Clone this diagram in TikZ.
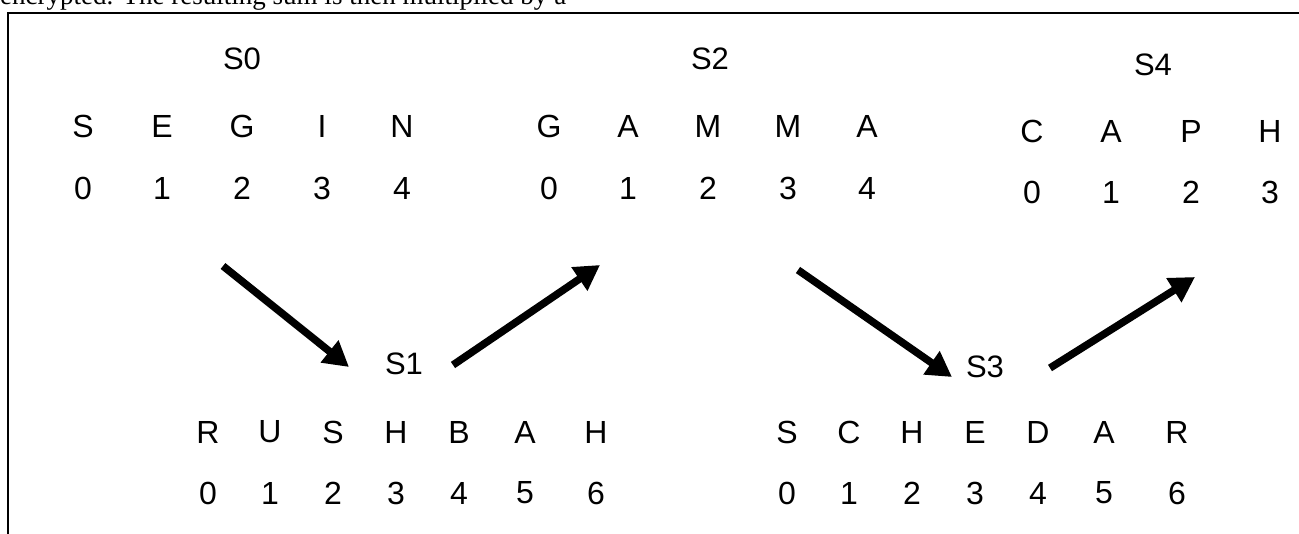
\documentclass[tikz,border=0pt]{standalone}
\usepackage{fontspec}
\setmainfont{Liberation Sans}
\newfontfamily\bodyserif{Liberation Serif}
\usetikzlibrary{arrows.meta}

\begin{document}
\begin{tikzpicture}[x=1pt,y=-1pt,
  glyph/.style={inner sep=0pt, font=\fontsize{32}{32}\selectfont},
  statelabel/.style={inner sep=0pt, font=\fontsize{31}{31}\selectfont},
  fatarrow/.style={line width=7.5pt, -{Triangle[length=25pt,width=27pt]}},
  frameline/.style={line width=2pt},
  bodyline/.style={anchor=base west, inner sep=0pt, font=\bodyserif\fontsize{27}{27}\selectfont}]
\clip (0,0) rectangle (1299,534);
\useasboundingbox (0,0) rectangle (1299,534);

% last line of the running text above the figure
\node[bodyline] (bodytext) at (0,5)
  {\makebox[566pt][s]{encrypted. The resulting sum is then multiplied by a}};

% figure frame (open to the right and bottom)
\coordinate (frTR) at (1310,13);
\coordinate (frTL) at (8,13);
\coordinate (frBL) at (8,545);
\draw[frameline] (frTR) -- (frTL) -- (frBL);

% S0 : SEGIN
\node[statelabel] (lab0) at (242,59) {S0};
\foreach \c/\x [count=\i from 0] in {S/83,E/162,G/242,I/322,N/402} {
  \node[glyph] (s0l\i) at (\x,126) {\c};
  \node[glyph] (s0d\i) at (\x,188) {\i};
}

% S2 : GAMMA
\node[statelabel] (lab2) at (710,59) {S2};
\foreach \c/\x [count=\i from 0] in {G/549,A/628,M/708,M/788,A/867} {
  \node[glyph] (s2l\i) at (\x,126) {\c};
  \node[glyph] (s2d\i) at (\x,188) {\i};
}

% S4 : CAPH
\node[statelabel] (lab4) at (1153,65) {S4};
\foreach \c/\x [count=\i from 0] in {C/1032,A/1111,P/1191,H/1270} {
  \node[glyph] (s4l\i) at (\x,131) {\c};
  \node[glyph] (s4d\i) at (\x,192) {\i};
}

% S1 : RUSHBAH
\node[statelabel] (lab1) at (404,364) {S1};
\foreach \c/\x [count=\i from 0] in {R/208,U/270,S/333,H/396,B/459,A/525,H/596} {
  \node[glyph] (s1l\i) at (\x,432) {\c};
  \node[glyph] (s1d\i) at (\x,493) {\i};
}

% S3 : SCHEDAR
\node[statelabel] (lab3) at (985,367) {S3};
\foreach \c/\x [count=\i from 0] in {S/787,C/849,H/912,E/975,D/1038,A/1104,R/1177} {
  \node[glyph] (s3l\i) at (\x,432) {\c};
  \node[glyph] (s3d\i) at (\x,493) {\i};
}

% transition arrows
\coordinate (a1s) at (223,266);  \coordinate (a1e) at (349,367);
\coordinate (a2s) at (453,365);  \coordinate (a2e) at (600,265);
\coordinate (a3s) at (798,270);  \coordinate (a3e) at (952,377);
\coordinate (a4s) at (1050,368); \coordinate (a4e) at (1195,277);
\draw[fatarrow] (a1s) -- (a1e);
\draw[fatarrow] (a2s) -- (a2e);
\draw[fatarrow] (a3s) -- (a3e);
\draw[fatarrow] (a4s) -- (a4e);
\end{tikzpicture}
\end{document}
